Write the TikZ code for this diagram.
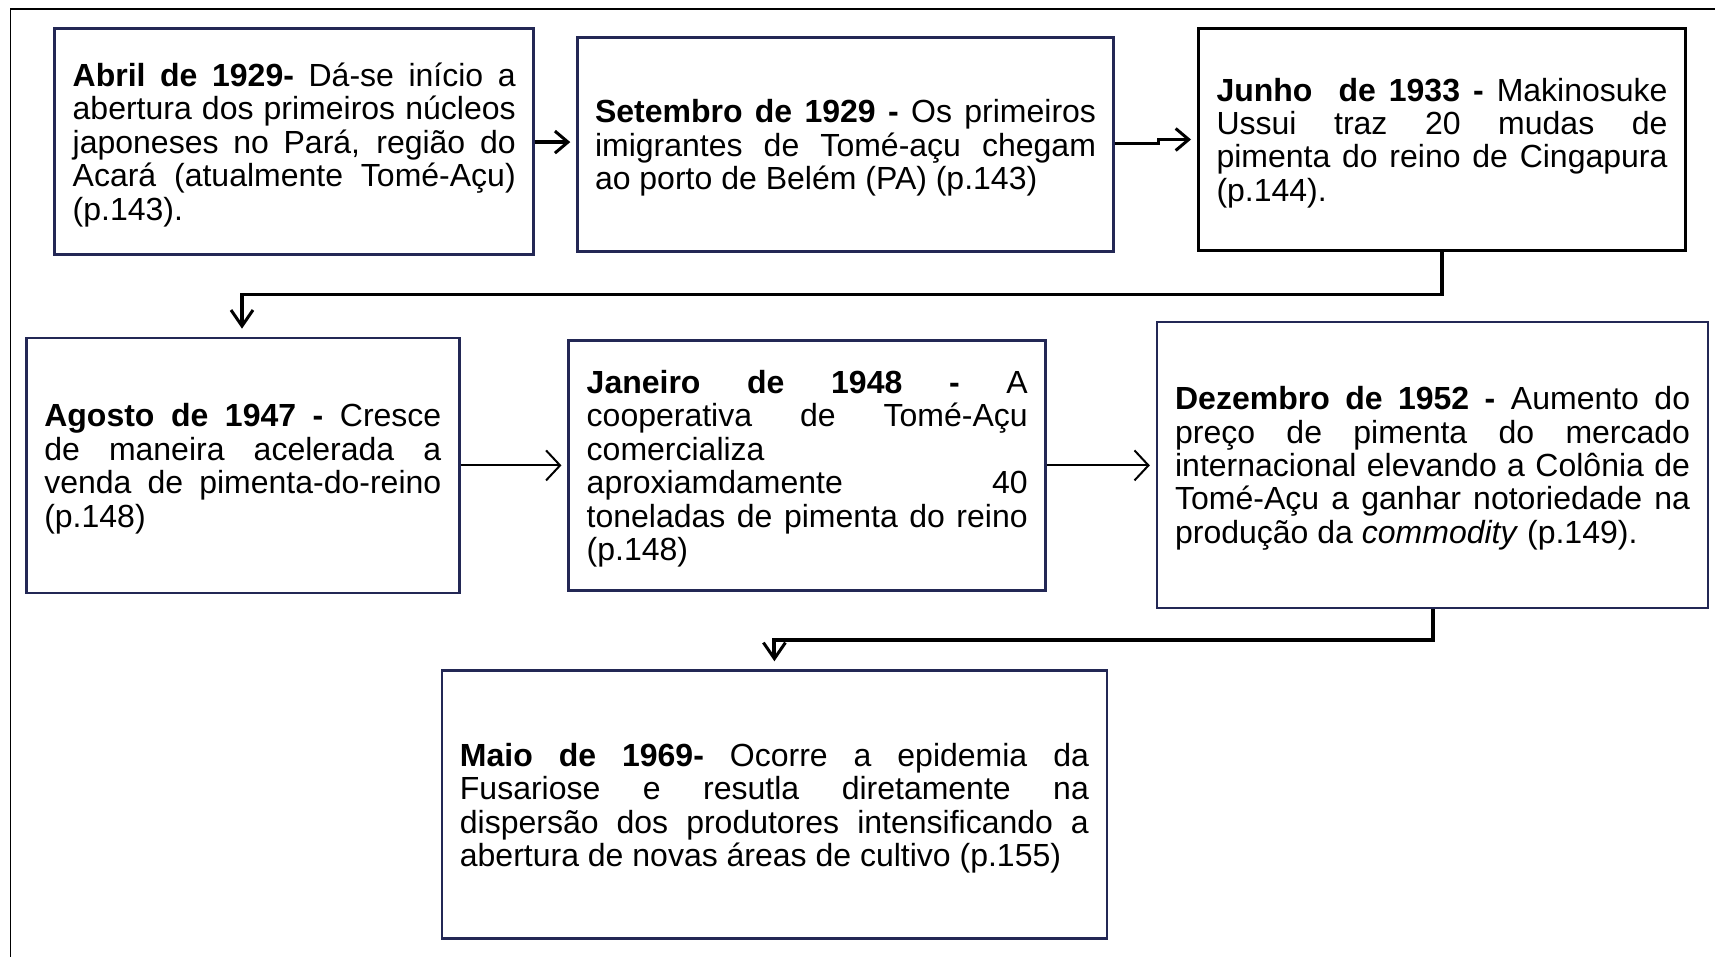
\documentclass[tikz,border=0pt]{standalone}
\usepackage{fontspec}
\setmainfont{Liberation Sans}
\usetikzlibrary{arrows.meta,calc}
\definecolor{navy}{RGB}{35,40,85}
\newcommand\jline[2]{\makebox[#1pt][s]{#2}}
\newcommand\topstrut{\rule{0pt}{30pt}}
\tikzset{
  evbox/.style={draw=navy, line width=2.5pt, inner sep=0pt, align=left,
    font=\fontsize{32}{33.4}\selectfont},
  thickarrow/.style={draw=black, line width=3.2pt, -{Straight Barb[length=13pt,width=22pt,line width=3pt]}},
  thinarrow/.style={draw=black, line width=2pt, -{Straight Barb[length=14pt,width=30pt,line width=2pt]}},
  elbow/.style={draw=black, line width=3.5pt, -{Straight Barb[length=16pt,width=22pt,line width=3pt]}},
}
\begin{document}
\begin{tikzpicture}[x=1pt,y=-1pt]
\useasboundingbox (0,0) rectangle (1715,957);
\fill[white] (0,0) rectangle (1715,957);
\draw[line width=1.6pt] (10.5,960) -- (10.5,9) -- (1720,9);

\node[evbox, minimum width=479pt, minimum height=226pt] (b1) at (294.2,141.6) {%
\topstrut\jline{443}{\textbf{Abril de 1929-} Dá-se início a}\\
\jline{443}{abertura dos primeiros núcleos}\\
\jline{443}{japoneses no Pará, região do}\\
\jline{443}{Acará (atualmente Tomé-Açu)}\\
(p.143).};

\node[evbox, minimum width=536pt, minimum height=214pt] (b2) at (845.5,144.4) {%
\topstrut\jline{501}{\textbf{Setembro de 1929 -} Os primeiros}\\
\jline{501}{imigrantes de Tomé-açu chegam}\\
ao porto de Belém (PA) (p.143)};

\node[evbox, draw=black, line width=3pt, minimum width=487pt, minimum height=222pt] (b3) at (1442,139.5) {%
\topstrut\jline{451}{\textbf{Junho\ \ de 1933 -} Makinosuke}\\
\jline{451}{Ussui traz 20 mudas de}\\
\jline{451}{pimenta do reino de Cingapura}\\
(p.144).};

\node[evbox, minimum width=433pt, minimum height=255pt] (b4) at (242.8,465.4) {%
\topstrut\jline{397}{\textbf{Agosto de 1947 -} Cresce}\\
\jline{397}{de maneira acelerada a}\\
\jline{397}{venda de pimenta-do-reino}\\
(p.148)};

\node[evbox, minimum width=477pt, minimum height=250pt] (b5) at (807.2,465.4) {%
\topstrut\jline{441}{\textbf{Janeiro de 1948 -} A}\\
\jline{441}{cooperativa de Tomé-Açu}\\
comercializa\\
\jline{441}{aproxiamdamente 40}\\
\jline{441}{toneladas de pimenta do reino}\\
(p.148)};

\node[evbox, minimum width=551pt, minimum height=286pt] (b6) at (1432.6,464.9) {%
\topstrut\jline{515}{\textbf{Dezembro de 1952 -} Aumento do}\\
\jline{515}{preço de pimenta do mercado}\\
\jline{515}{internacional elevando a Colônia de}\\
\jline{515}{Tomé-Açu a ganhar notoriedade na}\\
produção da \textit{commodity} (p.149).};

\node[evbox, minimum width=665pt, minimum height=268pt] (b7) at (774.4,804.5) {%
\rule{0pt}{31pt}\jline{629}{\textbf{Maio de 1969-} Ocorre a epidemia da}\\
\jline{629}{Fusariose e resutla diretamente na}\\
\jline{629}{dispersão dos produtores intensificando a}\\
abertura de novas áreas de cultivo (p.155)};

% connectors
\coordinate (a12) at ($(b1.east)+(0,0.5)$);
\draw[thickarrow, shorten >=6pt] (a12) -- (a12 -| b2.west);
\coordinate (j23) at ($(b2.east)+(44,-1)$);
\draw[thickarrow, shorten >=6pt] ($(b2.east)+(0,-1)$) -- (j23) |- (b3.west);
\coordinate (c34) at (242,294.3);
\draw[elbow, shorten >=8pt] (b3.south) |- (c34) -- (c34 |- b4.north);
\draw[thinarrow, shorten >=6pt] (b4.east) -- (b4.east -| b5.west);
\draw[thinarrow, shorten >=6pt] (b5.east) -- (b5.east -| b6.west);
\coordinate (c67) at (774.4,640);
\draw[elbow, line width=4pt, shorten >=8pt] (b6.south) |- (c67) -- (c67 |- b7.north);
\end{tikzpicture}
\end{document}
